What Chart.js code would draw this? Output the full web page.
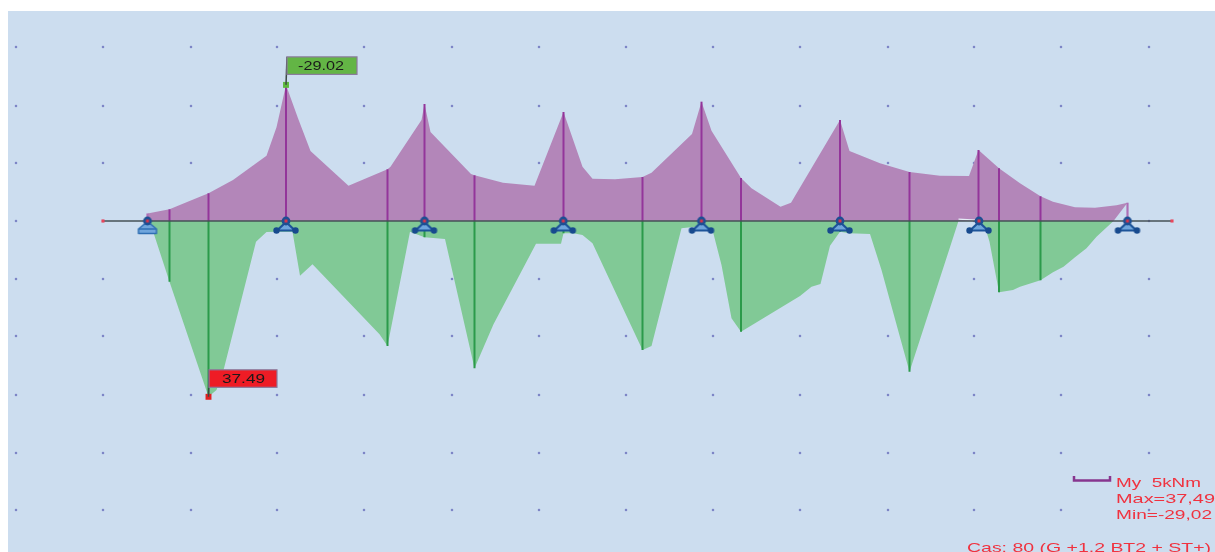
<!DOCTYPE html>
<html lang="fr">
<head>
  <meta charset="UTF-8">
  <title>Moment My - Cas 80</title>
  <style>
    html, body { margin: 0; padding: 0; background: #fff; overflow: hidden; }
    #pane { position: absolute; left: 8px; top: 11px; width: 1207px; height: 541px; background: #ccddef; }
    canvas { position: absolute; left: 0; top: 0; }
  </style>
  <script src="https://cdn.jsdelivr.net/npm/chart.js"></script>
</head>
<body>
  <div id="pane"></div>
  <canvas id="beam" width="1215" height="552"></canvas>

  <script>
    // stations along the beam (dm) and bending moment (kNm, positive downwards)
    const hogX = [0, 22, 39, 61, 85.5, 119, 129, 138.5, 150.5, 163, 201, 240, 243, 274, 277, 283, 323.5, 327, 355.5, 387, 416, 435, 445, 467.5, 495, 504, 544.5, 554, 564, 593.5, 604, 633, 643.5, 692.5, 702, 732.5, 762, 792.5, 821.5, 831, 851.5, 872.5, 893, 905.5, 927.5, 947.5, 969, 980];
    const hogM = [-1.6, -2.49, -3.99, -5.91, -8.74, -13.92, -19.98, -29.02, -21.9, -14.93, -7.52, -11.02, -11.58, -21.54, -24.95, -18.98, -10.02, -9.74, -8.17, -7.53, -23.24, -11.58, -9.02, -8.89, -9.38, -10.3, -18.55, -25.44, -19.25, -9.17, -6.97, -3.05, -3.9, -21.54, -14.93, -12.3, -10.45, -9.66, -9.6, -15.14, -11.24, -8.04, -5.27, -4.12, -2.92, -2.84, -3.35, -3.9];
    const hogBaseX = [0, 966, 980];
    const hogBaseM = [0, 0, -3.9];

    const sagX = [2.5, 6, 22, 61, 69, 76.5, 108.5, 119, 129, 145, 152.5, 165, 232, 240, 262.5, 277, 297.5, 327, 346, 388.5, 413.5, 416, 426, 435, 445, 495, 504, 534, 545.5, 554, 565, 574, 584, 593.5, 652.5, 664, 673, 682.5, 692.5, 702, 722.5, 734, 762, 811];
    const sagM = [0, 2.49, 12.94, 37.49, 36.03, 31.41, 4.41, 2.35, 2.28, 2.28, 11.66, 9.23, 24.16, 26.65, 2.28, 3.48, 3.84, 31.41, 22.03, 4.84, 4.84, 2.62, 2.62, 2.99, 4.75, 27.51, 26.65, 1.56, 1.28, 1.2, 1.92, 9.38, 20.75, 23.6, 15.99, 14.01, 13.43, 5.27, 2.28, 2.62, 2.77, 10.45, 32.13, 0];
    const sagEndX = [831.5, 839, 842, 851.5, 865.5, 872.5, 893, 905.5, 916, 927.5, 939, 949, 966];
    const sagEndM = [0, 2.28, 4.41, 15.2, 14.71, 14.01, 12.64, 10.94, 9.74, 7.74, 5.82, 3.35, 0];
    const paleEdgeX = [811, 828];
    const paleEdgeM = [-0.4, -0.2];

    const hogStemX = [0, 22, 61, 138.5, 240, 277, 327, 416, 495, 554, 593.5, 692.5, 762, 831, 851.5, 893, 980];
    const hogStemM = [-1.6, -2.49, -5.91, -29.02, -11.02, -24.95, -9.74, -23.24, -9.38, -25.44, -9.17, -21.54, -10.45, -15.14, -11.24, -5.27, -3.9];
    const sagStemX = [22, 61, 240, 277, 327, 416, 495, 593.5, 692.5, 762, 851.5, 893];
    const sagStemM = [12.94, 37.49, 26.65, 3.48, 31.41, 2.62, 27.51, 23.6, 2.28, 32.13, 15.2, 12.64];

    const supportX = [138.5, 277, 415.8, 554, 692.5, 831.5, 980];
    const fixedSupportX = [0];
    const axisEndsX = [-44.5, 1024.5];

    const gridX = [-131.5, -44.5, 43.5, 129.5, 216.5, 304.5, 391.5, 478.5, 565.5, 652.5, 740.5, 826.5, 913.5, 1001.5];
    const gridM = [-37.1, -24.52, -12.37, 0, 12.37, 24.52, 37.1, 49.47, 61.62];

    const maxX = 61, maxM = 37.49, maxLabel = "37.49";
    const minX = 138.5, minM = -29.02, minLabel = "-29.02";
    const legendLines = ["My  5kNm", "Max=37,49", "Min=-29,02"];
    const caseLabel = "Cas: 80 (G +1.2 BT2 + ST+)";

    function pts(xs, ys) {
      return xs.map((x, i) => ({ x: x, y: ys[i] }));
    }

    function gridPoints() {
      const out = [];
      gridX.forEach(x => gridM.forEach(m => out.push({ x: x, y: m })));
      return out;
    }

    // support symbols, the node sits in the middle of the little canvas
    function supportIcon(fixed) {
      const c = document.createElement("canvas");
      c.width = 36;
      c.height = 36;
      const g = c.getContext("2d");
      g.translate(18, 18);
      g.lineJoin = "round";
      if (fixed) {
        g.fillStyle = "#6fa5dc";
        g.strokeStyle = "#2f6fb3";
        g.lineWidth = 1.5;
        g.beginPath();
        g.moveTo(-3, 3);
        g.lineTo(3, 3);
        g.lineTo(9, 8);
        g.lineTo(9, 12.5);
        g.lineTo(-9, 12.5);
        g.lineTo(-9, 8);
        g.closePath();
        g.fill();
        g.stroke();
        g.beginPath();
        g.moveTo(-9, 8);
        g.lineTo(9, 8);
        g.stroke();
      } else {
        g.fillStyle = "#6fa5dc";
        g.strokeStyle = "#1d5499";
        g.lineWidth = 2.2;
        g.beginPath();
        g.moveTo(0, 1);
        g.lineTo(9, 9.5);
        g.lineTo(-9, 9.5);
        g.closePath();
        g.fill();
        g.stroke();
        g.fillStyle = "#174a8e";
        [-9.5, 9.5].forEach(dx => {
          g.beginPath();
          g.arc(dx, 9.5, 3.2, 0, Math.PI * 2);
          g.fill();
        });
      }
      g.fillStyle = "#1d4f93";
      g.beginPath();
      g.arc(0, 0, 4.4, 0, Math.PI * 2);
      g.fill();
      g.fillStyle = "#d8344a";
      g.fillRect(-1.5, -1.5, 3, 3);
      return c;
    }

    // source text is stretched wide, so squeeze it into the measured width
    function wideText(ctx, text, x, y, width, font, color) {
      ctx.save();
      ctx.font = font;
      ctx.fillStyle = color;
      ctx.textBaseline = "alphabetic";
      ctx.textAlign = "left";
      const w = ctx.measureText(text).width;
      ctx.translate(x, y);
      ctx.scale(width / w, 1);
      ctx.fillText(text, 0, 0);
      ctx.restore();
    }

    function flag(ctx, px, py, boxX, boxY, boxW, fill, text, textDx, textW) {
      ctx.save();
      ctx.strokeStyle = "#3d4a45";
      ctx.lineWidth = 1.5;
      ctx.beginPath();
      ctx.moveTo(px, py);
      ctx.lineTo(boxX, boxY);
      ctx.stroke();
      ctx.fillStyle = fill;
      ctx.strokeStyle = "#8a7a9c";
      ctx.lineWidth = 1.2;
      ctx.fillRect(boxX, boxY, boxW, 17.5);
      ctx.strokeRect(boxX, boxY, boxW, 17.5);
      ctx.restore();
      wideText(ctx, text, boxX + textDx, boxY + 13.5, textW, "13px 'Liberation Sans'", "#1a1a1a");
    }

    const labelsPlugin = {
      id: "labels",
      afterDraw(chart) {
        const ctx = chart.ctx;
        const sx = chart.scales.x, sy = chart.scales.y;

        const minPx = sx.getPixelForValue(minX), minPy = sy.getPixelForValue(minM);
        flag(ctx, minPx, minPy, minPx + 1, minPy - 28, 70, "#63b545", minLabel, 11, 46);
        const maxPx = sx.getPixelForValue(maxX), maxPy = sy.getPixelForValue(maxM);
        flag(ctx, maxPx, maxPy, maxPx + 0.5, maxPy - 27, 68, "#ee1c25", maxLabel, 13, 43);

        // legend bracket
        ctx.save();
        ctx.strokeStyle = "#87368f";
        ctx.lineWidth = 2.5;
        ctx.beginPath();
        ctx.moveTo(1074, 476);
        ctx.lineTo(1074, 480.5);
        ctx.lineTo(1110, 480.5);
        ctx.lineTo(1110, 476);
        ctx.stroke();
        ctx.restore();

        const red = "#f0323f", font = "13.5px 'Liberation Sans'";
        wideText(ctx, legendLines[0], 1116, 487, 85, font, red);
        wideText(ctx, legendLines[1], 1116, 503, 99, font, red);
        wideText(ctx, legendLines[2], 1116, 518.5, 96, font, red);
        wideText(ctx, caseLabel, 967, 552, 244, font, red);
      }
    };

    const purple = "#93359a", green = "#2b9a4a";
    const datasets = [];

    // filled moment diagram
    datasets.push({ data: pts(hogX, hogM), showLine: true, borderWidth: 0, pointRadius: 0, backgroundColor: "#b386b9", fill: "+1", order: 6 });
    datasets.push({ data: pts(hogBaseX, hogBaseM), showLine: true, borderWidth: 0, pointRadius: 0, order: 7 });
    datasets.push({ data: pts(sagX, sagM), showLine: true, borderWidth: 0, pointRadius: 0, backgroundColor: "#81c996", fill: { value: 0 }, order: 6 });
    datasets.push({ data: pts(sagEndX, sagEndM), showLine: true, borderWidth: 0, pointRadius: 0, backgroundColor: "#81c996", fill: { value: 0 }, order: 6 });
    datasets.push({ data: pts(paleEdgeX, paleEdgeM), showLine: true, borderColor: "#e6eef7", borderWidth: 1.2, pointRadius: 0, order: 5 });

    // grid dots
    datasets.push({ data: gridPoints(), showLine: false, pointStyle: "rect", pointRadius: 1.6, pointBorderWidth: 0, pointBackgroundColor: "#7d85c6", order: 8 });

    // section stems
    hogStemX.forEach((x, i) => {
      const pale = x === 0 || x === 980;
      datasets.push({ data: pts([x, x], [0, hogStemM[i]]), showLine: true, borderColor: pale ? "#ad6fb5" : purple, borderWidth: pale ? 2.2 : 2, pointRadius: 0, order: 4 });
    });
    sagStemX.forEach((x, i) => {
      datasets.push({ data: pts([x, x], [0, sagStemM[i]]), showLine: true, borderColor: green, borderWidth: 2, pointRadius: 0, order: 4 });
    });

    // beam axis and its red end nodes
    datasets.push({ data: pts(axisEndsX, [0, 0]), showLine: true, borderColor: "rgba(70,80,85,0.75)", borderWidth: 2, pointRadius: 2.2, pointStyle: "rect", pointBorderWidth: 0, pointBackgroundColor: "#e8475c", order: 3 });

    // supports
    datasets.push({ data: pts(supportX, supportX.map(() => 0)), showLine: false, pointStyle: supportIcon(false), order: 2 });
    datasets.push({ data: pts(fixedSupportX, [0]), showLine: false, pointStyle: supportIcon(true), order: 2 });

    // extreme markers
    datasets.push({ data: pts([minX], [minM]), showLine: false, pointStyle: "rect", pointRadius: 4.2, pointBorderWidth: 0, pointBackgroundColor: "#5db83d", order: 1 });
    datasets.push({ data: pts([maxX], [maxM]), showLine: false, pointStyle: "rect", pointRadius: 4.2, pointBorderWidth: 0, pointBackgroundColor: "#e02020", order: 1 });

    new Chart(document.getElementById("beam").getContext("2d"), {
      type: "scatter",
      data: { datasets: datasets },
      plugins: [labelsPlugin],
      options: {
        responsive: false,
        animation: false,
        events: [],
        layout: { padding: 0, autoPadding: false },
        elements: { line: { tension: 0 } },
        plugins: { legend: { display: false }, tooltip: { enabled: false } },
        scales: {
          x: { type: "linear", display: false, min: -147.5, max: 1067.5 },
          y: { type: "linear", display: false, reverse: true, min: -47.12, max: 70.58 }
        }
      }
    });
  </script>
</body>
</html>
